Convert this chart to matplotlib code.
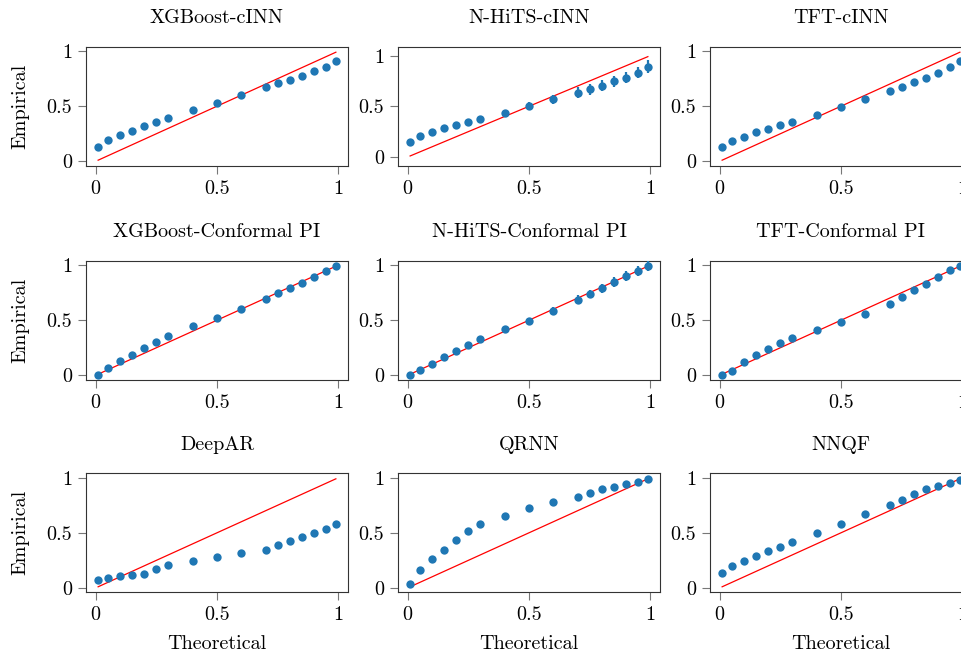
import numpy as np
import matplotlib
matplotlib.use("Agg")
import matplotlib.pyplot as plt

plt.rcParams["font.family"] = "serif"
plt.rcParams["font.serif"] = ["cmr10"]
plt.rcParams["mathtext.fontset"] = "cm"
plt.rcParams["axes.unicode_minus"] = False
plt.rcParams["axes.formatter.use_mathtext"] = True

# theoretical quantile levels (shared by all panels)
theoretical = [0.01, 0.05, 0.1, 0.15, 0.2, 0.25, 0.3, 0.4, 0.5, 0.6,
               0.7, 0.75, 0.8, 0.85, 0.9, 0.95, 0.99]

titles = ["XGBoost-cINN", "N-HiTS-cINN", "TFT-cINN",
          "XGBoost-Conformal PI", "N-HiTS-Conformal PI", "TFT-Conformal PI",
          "DeepAR", "QRNN", "NNQF"]

xgb_cinn = [0.132, 0.190, 0.238, 0.277, 0.316, 0.353, 0.389, 0.461, 0.530,
            0.602, 0.672, 0.708, 0.741, 0.777, 0.816, 0.859, 0.910]
nhits_cinn = [0.144, 0.203, 0.243, 0.282, 0.311, 0.341, 0.374, 0.433, 0.502,
              0.570, 0.636, 0.669, 0.702, 0.748, 0.784, 0.833, 0.892]
tft_cinn = [0.127, 0.181, 0.223, 0.262, 0.295, 0.325, 0.358, 0.422, 0.491,
            0.563, 0.636, 0.672, 0.717, 0.756, 0.801, 0.852, 0.910]
xgb_conf = [0.006, 0.069, 0.130, 0.187, 0.244, 0.301, 0.355, 0.446, 0.524,
            0.602, 0.696, 0.744, 0.789, 0.837, 0.889, 0.949, 0.991]
nhits_conf = [0.006, 0.045, 0.105, 0.163, 0.217, 0.274, 0.325, 0.416, 0.494,
              0.584, 0.687, 0.738, 0.789, 0.846, 0.901, 0.949, 0.994]
tft_conf = [0.003, 0.042, 0.120, 0.187, 0.241, 0.289, 0.334, 0.413, 0.485,
            0.554, 0.651, 0.708, 0.771, 0.831, 0.895, 0.955, 0.994]
deepar = [0.075, 0.093, 0.108, 0.117, 0.127, 0.169, 0.205, 0.241, 0.280,
          0.313, 0.346, 0.386, 0.422, 0.458, 0.497, 0.536, 0.578]
qrnn = [0.036, 0.165, 0.258, 0.348, 0.432, 0.514, 0.583, 0.655, 0.721,
        0.781, 0.826, 0.865, 0.895, 0.916, 0.940, 0.961, 0.985]
nnqf = [0.139, 0.196, 0.244, 0.292, 0.334, 0.373, 0.413, 0.500, 0.584,
        0.669, 0.756, 0.795, 0.849, 0.895, 0.928, 0.955, 0.982]

# spread over runs (only visible for N-HiTS)
nhits_cinn_err = [0.012, 0.014, 0.015, 0.017, 0.018, 0.020, 0.022, 0.027, 0.036,
                  0.045, 0.052, 0.053, 0.054, 0.055, 0.056, 0.058, 0.060]
nhits_conf_err = [0.006, 0.009, 0.011, 0.013, 0.014, 0.016, 0.018, 0.020, 0.024,
                  0.032, 0.038, 0.040, 0.042, 0.043, 0.044, 0.046, 0.047]

series = [xgb_cinn, nhits_cinn, tft_cinn, xgb_conf, nhits_conf, tft_conf,
          deepar, qrnn, nnqf]
errors = [None, nhits_cinn_err, None, None, nhits_conf_err, None, None, None, None]

W, H = 962, 653
fig = plt.figure(figsize=(W / 100, H / 100), dpi=100)

lefts = [86, 398, 710]
tops = [46.7, 260.7, 473.3]
aw, ah = 262, 119

blue = "#1f77b4"
fs = 14.5

for i, (title, emp, err) in enumerate(zip(titles, series, errors)):
    r, c = divmod(i, 3)
    ax = fig.add_axes([lefts[c] / W, (H - tops[r] - ah) / H, aw / W, ah / H])
    ax.plot([theoretical[0], theoretical[-1]], [theoretical[0], theoretical[-1]],
            color="red", lw=0.9, zorder=2)
    if err is None:
        ax.plot(theoretical, emp, "o", color=blue, ms=6, mew=0, zorder=3)
    else:
        ax.errorbar(theoretical, emp, yerr=err, fmt="o", color=blue, ms=6,
                    mew=0, elinewidth=1.6, capsize=0, zorder=3)
    ax.set_xlim(-0.04, 1.04)
    if i == 1:
        ax.set_ylim(-0.086, 1.088)
    else:
        ax.set_ylim(-0.04, 1.04)
    ax.set_xticks([0, 0.5, 1])
    ax.set_xticklabels(["0", "0.5", "1"])
    ax.set_yticks([0, 0.5, 1])
    ax.set_yticklabels(["0", "0.5", "1"])
    ax.tick_params(labelsize=fs, length=6, width=0.8, color="#777777", pad=4)
    for sp in ax.spines.values():
        sp.set_color("#333333")
        sp.set_linewidth(0.8)
    ax.set_title(title, fontsize=fs, pad=17)
    if c == 0:
        ax.set_ylabel("Empirical", fontsize=fs, labelpad=12)
    if r == 2:
        ax.set_xlabel("Theoretical", fontsize=fs, labelpad=8)

fig.savefig("out.png", dpi=100)
